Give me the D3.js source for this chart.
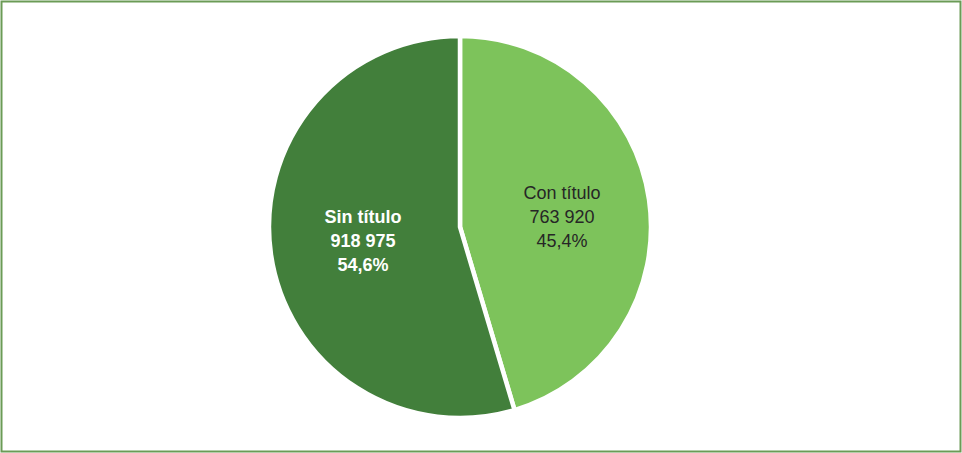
<!DOCTYPE html>
<html><head><meta charset="utf-8">
<script src="https://cdn.jsdelivr.net/npm/d3@7/dist/d3.min.js"></script>
<style>body{margin:0;background:#fff}svg{display:block}</style>
</head><body>
<script>
const categories = ["Con título", "Sin título"];
const values = [763920, 918975];
const valueLabels = ["763 920", "918 975"];
const percentLabels = ["45,4%", "54,6%"];
const colors = ["#7dc35b", "#427f3b"];

const W = 962, H = 453;
const svg = d3.select("body").append("svg").attr("width", W).attr("height", H);
svg.append("rect").attr("x", 1.5).attr("y", 1.5).attr("width", W - 3).attr("height", H - 3)
  .attr("fill", "#fff").attr("stroke", "#6b9b56").attr("stroke-width", 2);

const cx = 460, cy = 227, R = 191;
const g = svg.append("g").attr("transform", `translate(${cx},${cy})`);
const pie = d3.pie().sort(null).value(d => d)(values);
const arc = d3.arc().innerRadius(0).outerRadius(R);
g.selectAll("path").data(pie).join("path")
  .attr("d", arc).attr("fill", (d, i) => colors[i])
  .attr("stroke", "#fff").attr("stroke-width", 4.5).attr("stroke-linejoin", "miter");

const labelArc = d3.arc().innerRadius(100).outerRadius(100);
const offsets = [[3, 4], [2, 0]];
pie.forEach((d, i) => {
  const c = labelArc.centroid(d);
  const t = g.append("text")
    .attr("transform", `translate(${c[0] + offsets[i][0]},${c[1] + offsets[i][1]})`)
    .attr("text-anchor", "middle")
    .attr("font-family", "Liberation Sans, Arial, sans-serif")
    .attr("font-size", 18)
    .attr("font-weight", i === 1 ? "bold" : "normal")
    .attr("fill", i === 1 ? "#fff" : "#262626");
  [categories[i], valueLabels[i], percentLabels[i]].forEach((s, k) => {
    t.append("tspan").attr("x", 0).attr("y", (k - 1) * 24 + 6).text(s);
  });
});
</script>
</body></html>
